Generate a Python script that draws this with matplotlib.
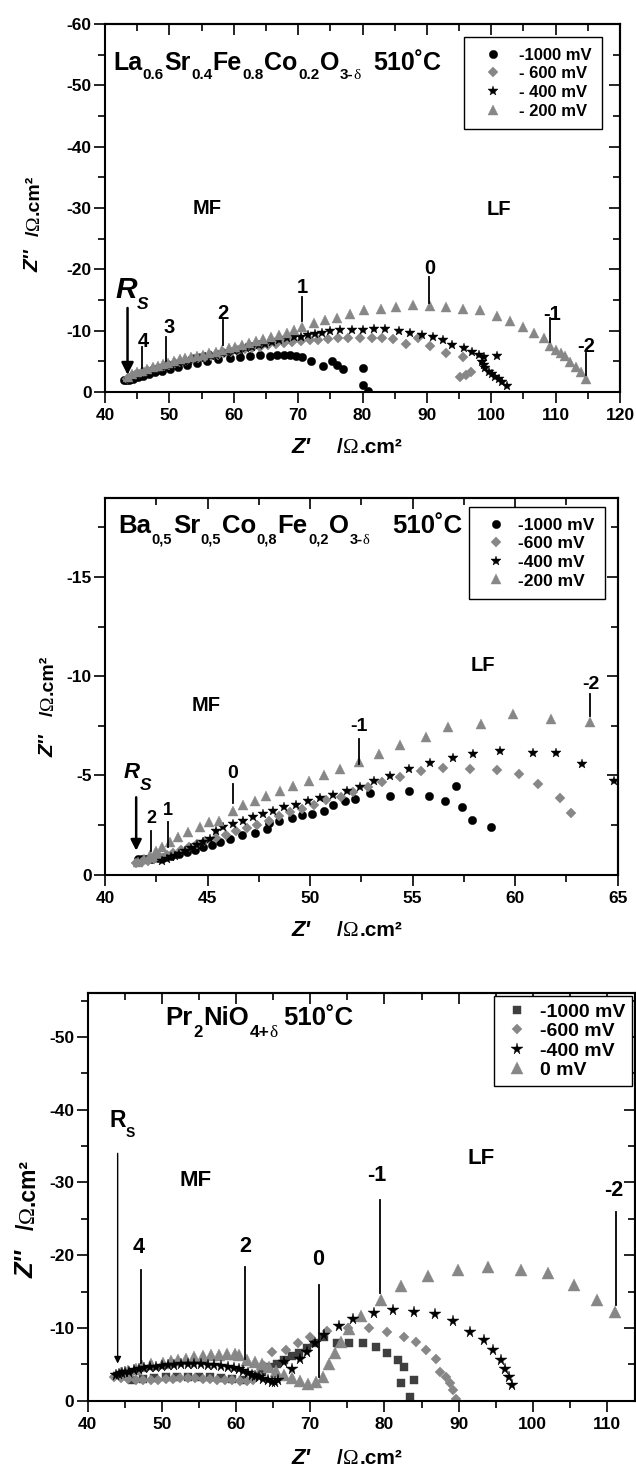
import matplotlib
matplotlib.use("Agg")
import matplotlib.pyplot as plt
from matplotlib.ticker import MultipleLocator
from matplotlib.transforms import IdentityTransform

plt.rcParams["font.family"] = ["Liberation Sans", "DejaVu Sans"]
plt.rcParams["font.weight"] = "bold"
plt.rcParams["axes.unicode_minus"] = False

# ---------------------------------------------------------------------------
# Impedance data at 510 °C: Z' and Z'' in ohm.cm2 (Z'' negative)
# ---------------------------------------------------------------------------
# La0.6Sr0.4Fe0.8Co0.2O3-d
LSCF_LABELS = ["-1000 mV", "- 600 mV", "- 400 mV", "- 200 mV"]
LSCF_X_1000 = [42.9, 43.3, 43.8, 44.4, 45.1, 45.9, 46.8, 47.8, 48.9, 50.1, 51.4, 52.8, 54.3, 55.9, 57.6,
               59.4, 61.0, 62.5, 64.1, 65.7, 66.7, 67.8, 68.8, 69.6, 70.6, 72.0, 73.9, 75.3, 76.1, 77.0,
               80.0, 80.0, 80.8]
LSCF_Y_1000 = [-2.0, -2.0, -2.0, -2.2, -2.4, -2.6, -2.9, -3.2, -3.5, -3.8, -4.1, -4.4, -4.7, -5.0, -5.3,
               -5.5, -5.7, -5.8, -6.0, -5.8, -6.1, -6.0, -6.0, -5.8, -5.7, -5.1, -4.2, -5.1, -4.4, -3.8,
               -3.9, -1.1, -0.1]
LSCF_X_600 = [43.4, 44.0, 44.6, 45.3, 46.0, 46.7, 47.5, 48.3, 49.1, 49.9, 50.8, 51.7, 52.6, 53.5, 54.5,
              55.5, 56.5, 57.5, 58.5, 59.6, 60.7, 61.8, 62.9, 64.1, 65.3, 66.5, 67.8, 69.1, 70.4, 71.8,
              73.1, 74.7, 76.2, 77.8, 79.6, 81.4, 83.0, 84.8, 86.8, 88.6, 90.5, 93.0, 95.6, 96.9, 96.0,
              95.2]
LSCF_Y_600 = [-2.2, -2.4, -2.7, -2.9, -3.2, -3.4, -3.7, -3.9, -4.2, -4.4, -4.7, -4.9, -5.1, -5.3, -5.5,
              -5.7, -5.9, -6.1, -6.3, -6.6, -6.8, -7.0, -7.2, -7.4, -7.6, -7.8, -8.0, -8.2, -8.3, -8.4,
              -8.5, -8.6, -8.75, -8.75, -8.75, -8.75, -8.75, -8.6, -7.8, -8.8, -7.5, -6.3, -5.7, -3.2, -2.8,
              -2.4]
LSCF_X_400 = [43.8, 44.3, 44.8, 45.4, 46.0, 46.6, 47.2, 47.9, 48.6, 49.3, 50.0, 50.7, 51.5, 52.3, 53.1,
              53.9, 54.7, 55.5, 56.4, 57.3, 58.2, 59.1, 60.0, 60.9, 61.9, 62.9, 63.9, 64.9, 65.9, 67.0,
              68.2, 69.3, 70.4, 71.5, 72.6, 73.7, 74.9, 76.5, 78.3, 80.1, 81.8, 83.5, 85.6, 87.4, 89.2,
              90.9, 92.5, 93.9, 95.7, 97.0, 98.1, 98.8, 100.9, 98.6, 98.8, 99.1, 99.6, 100.1, 100.6, 101.2,
              101.7, 102.5]
LSCF_Y_400 = [-2.0, -2.2, -2.4, -2.6, -2.9, -3.1, -3.3, -3.6, -3.8, -4.1, -4.3, -4.5, -4.7, -4.9, -5.1,
              -5.3, -5.5, -5.7, -5.9, -6.1, -6.3, -6.5, -6.7, -6.9, -7.1, -7.3, -7.6, -7.9, -8.2, -8.5,
              -8.75, -8.9, -9.0, -9.3, -9.5, -9.7, -10.0, -10.1, -10.1, -10.1, -10.2, -10.2, -10.0, -9.7, -9.3,
              -8.9, -8.4, -7.7, -7.1, -6.6, -6.1, -5.7, -5.9, -4.9, -4.4, -3.9, -3.3, -2.9, -2.5, -2.1,
              -1.7, -1.0]
LSCF_X_200 = [43.5, 44.2, 45.0, 45.8, 46.6, 47.4, 48.2, 49.0, 49.8, 50.7, 51.6, 52.5, 53.4, 54.3, 55.2,
              56.2, 57.2, 58.2, 59.2, 60.2, 61.3, 62.4, 63.5, 64.6, 65.8, 67.0, 68.2, 69.4, 70.6, 72.4,
              74.2, 76.1, 78.1, 80.2, 82.8, 85.2, 87.8, 90.5, 93.0, 95.6, 98.3, 100.9, 102.9, 104.9, 106.6,
              108.2, 109.2, 110.0, 110.8, 111.5, 112.3, 113.1, 113.9, 114.7]
LSCF_Y_200 = [-2.5, -2.9, -3.2, -3.5, -3.8, -4.0, -4.3, -4.5, -4.8, -5.0, -5.3, -5.5, -5.7, -5.9, -6.1,
              -6.4, -6.6, -6.9, -7.1, -7.4, -7.7, -8.0, -8.3, -8.6, -8.9, -9.3, -9.7, -10.1, -10.6, -11.2,
              -11.7, -12.1, -12.7, -13.3, -13.5, -13.9, -14.2, -14.0, -13.9, -13.6, -13.3, -12.4, -11.5, -10.6, -9.6,
              -8.8, -7.5, -6.9, -6.3, -5.8, -4.9, -4.1, -3.3, -2.1]

# Ba0.5Sr0.5Co0.8Fe0.2O3-d
BSCF_LABELS = ["-1000 mV", "-600 mV", "-400 mV", "-200 mV"]
BSCF_X_1000 = [41.6, 41.8, 42.0, 42.3, 42.6, 42.9, 43.2, 43.6, 44.0, 44.4, 44.8, 45.2, 45.6, 46.1, 46.7,
               47.3, 47.9, 48.0, 48.5, 49.1, 49.6, 50.1, 50.7, 51.1, 51.7, 52.2, 52.9, 53.9, 54.8, 55.8,
               56.6, 57.1, 57.4, 57.9, 58.8]
BSCF_Y_1000 = [-0.8, -0.8, -0.8, -0.8, -0.85, -0.9, -0.95, -1.05, -1.15, -1.25, -1.4, -1.5, -1.65, -1.8, -2.0,
               -2.1, -2.3, -2.6, -2.7, -2.85, -3.0, -3.05, -3.2, -3.5, -3.7, -3.8, -4.1, -3.95, -4.2, -3.95,
               -3.7, -4.45, -3.4, -2.75, -2.4]
BSCF_X_600 = [41.5, 41.8, 42.1, 42.4, 42.7, 43.0, 43.3, 43.7, 44.1, 44.5, 44.9, 45.4, 45.9, 46.4, 46.9,
              47.4, 48.0, 48.5, 49.0, 49.6, 50.2, 50.8, 51.5, 52.1, 52.8, 53.5, 54.4, 55.4, 56.5, 57.8,
              59.1, 60.2, 61.1, 62.2, 62.7]
BSCF_Y_600 = [-0.6, -0.65, -0.7, -0.8, -0.9, -1.0, -1.1, -1.25, -1.4, -1.55, -1.7, -1.85, -2.0, -2.2, -2.35,
              -2.5, -2.7, -2.95, -3.15, -3.3, -3.5, -3.75, -3.9, -4.15, -4.4, -4.65, -4.9, -5.25, -5.4, -5.35,
              -5.3, -5.1, -4.55, -3.85, -3.1]
BSCF_X_400 = [42.8, 43.0, 43.2, 43.4, 43.6, 43.9, 44.2, 44.5, 44.8, 45.1, 45.4, 45.75, 46.24, 46.73, 47.22,
              47.72, 48.21, 48.74, 49.29, 49.88, 50.47, 51.10, 51.79, 52.44, 53.13, 53.92, 54.84, 55.85, 56.97, 57.95,
              59.27, 60.87, 61.99, 63.27, 64.8]
BSCF_Y_400 = [-0.7, -0.8, -0.87, -0.95, -1.05, -1.2, -1.35, -1.5, -1.65, -1.8, -2.2, -2.39, -2.55, -2.72, -2.89,
              -3.06, -3.23, -3.39, -3.53, -3.70, -3.87, -4.03, -4.24, -4.44, -4.71, -4.99, -5.33, -5.61, -5.88, -6.08,
              -6.25, -6.12, -6.12, -5.58, -4.74]
BSCF_X_200 = [41.6, 41.9, 42.2, 42.5, 42.8, 43.19, 43.58, 44.07, 44.63, 45.06, 45.55, 46.24, 46.73, 47.32, 47.87,
              48.54, 49.19, 49.96, 50.67, 51.46, 52.40, 53.35, 54.37, 55.63, 56.73, 58.35, 59.88, 61.73, 63.66]
BSCF_Y_200 = [-0.62, -0.8, -1.0, -1.2, -1.38, -1.63, -1.88, -2.13, -2.39, -2.64, -2.72, -3.23, -3.53, -3.70, -3.98,
              -4.20, -4.49, -4.74, -5.00, -5.33, -5.70, -6.08, -6.55, -6.96, -7.43, -7.60, -8.10, -7.85, -7.68]

# Pr2NiO4+d
PNO_LABELS = ["-1000 mV", "-600 mV", "-400 mV", "0 mV"]
PNO_X_1000 = [46.0, 47.5, 49.0, 50.5, 52.0, 53.5, 55.0, 56.5, 58.0, 59.5, 61.0, 62.3, 63.5, 64.5, 65.5,
              66.5, 67.5, 68.5, 69.5, 70.5, 71.9, 73.6, 75.2, 77.1, 78.8, 80.4, 81.8, 82.6, 82.3, 84.0,
              83.4]
PNO_Y_1000 = [-2.9, -3.0, -3.1, -3.2, -3.2, -3.3, -3.3, -3.2, -3.1, -3.0, -2.9, -3.3, -4.0, -4.6, -5.1,
              -5.6, -6.1, -6.6, -7.3, -8.0, -8.8, -8.0, -8.0, -7.9, -7.4, -6.5, -5.6, -4.7, -2.4, -2.9,
              -0.55]
PNO_X_600 = [43.5, 44.5, 45.5, 46.5, 47.5, 48.5, 49.5, 50.5, 51.5, 52.5, 53.5, 54.5, 55.5, 56.5, 57.5,
             58.5, 59.5, 60.5, 61.5, 62.3, 63.0, 63.8, 64.8, 66.7, 68.4, 70.0, 72.2, 75.1, 77.9, 80.4,
             82.6, 84.2, 85.6, 87.0, 87.5, 88.3, 88.9, 89.2, 89.7]
PNO_Y_600 = [-3.3, -3.1, -3.0, -2.9, -2.9, -2.9, -2.9, -3.0, -3.0, -3.1, -3.1, -3.1, -3.0, -3.0, -2.9,
             -2.8, -2.8, -2.7, -2.7, -2.9, -3.6, -4.8, -6.7, -7.0, -8.0, -8.8, -9.6, -10.0, -10.0, -9.5,
             -8.8, -8.1, -7.0, -5.7, -4.0, -3.3, -2.4, -1.5, -0.3]
PNO_X_400 = [43.8, 44.2, 44.6, 45.1, 45.6, 46.2, 46.9, 47.6, 48.4, 49.2, 50.0, 50.8, 51.7, 52.6, 53.5,
             54.4, 55.3, 56.2, 57.1, 58.0, 58.9, 59.7, 60.4, 61.0, 61.6, 62.1, 62.6, 63.1, 63.7, 64.3,
             64.8, 65.3, 65.7, 66.5, 67.6, 68.6, 69.5, 70.6, 71.9, 73.9, 75.8, 78.6, 81.1, 84.0, 86.8,
             89.3, 91.5, 93.4, 94.6, 95.7, 96.3, 96.8, 97.2]
PNO_Y_400 = [-3.6, -3.7, -3.8, -3.9, -4.0, -4.2, -4.4, -4.5, -4.6, -4.7, -4.8, -4.9, -4.9, -5.0, -5.0,
             -5.0, -5.0, -4.9, -4.9, -4.8, -4.7, -4.5, -4.3, -4.1, -3.8, -3.6, -3.4, -3.2, -3.0, -2.8,
             -2.6, -2.6, -2.8, -5.3, -4.4, -5.8, -6.7, -7.9, -9.0, -10.3, -11.2, -12.0, -12.4, -12.2, -11.9,
             -10.9, -9.5, -8.3, -7.0, -5.6, -4.4, -3.3, -2.2]
PNO_X_0 = [44.5, 45.5, 46.5, 47.3, 48.5, 50.1, 51.2, 52.2, 53.3, 54.4, 55.5, 56.6, 57.7, 58.8, 59.8,
           60.4, 61.5, 62.5, 63.5, 64.4, 65.4, 66.5, 67.6, 68.6, 69.7, 70.8, 71.7, 72.5, 73.3, 74.1,
           75.2, 76.9, 79.6, 82.3, 85.9, 89.9, 93.9, 98.4, 102.1, 105.6, 108.6, 111.1]
PNO_Y_0 = [-3.8, -4.1, -4.4, -4.8, -5.0, -5.2, -5.4, -5.6, -5.8, -6.0, -6.1, -6.3, -6.3, -6.4, -6.4,
           -6.3, -5.6, -5.3, -5.0, -4.6, -4.1, -3.6, -3.1, -2.7, -2.3, -2.6, -3.3, -5.1, -6.6, -8.1,
           -9.8, -11.6, -13.85, -15.7, -17.2, -18.0, -18.4, -18.0, -17.5, -15.9, -13.9, -12.2]

# ---------------------------------------------------------------------------
W, H = 636, 1469
GREY = "#878787"
DARK = "#3f3f3f"
SANS = ["Liberation Sans", "DejaVu Sans"]
SERIF = ["Liberation Serif", "DejaVu Serif"]
SYM = {"family": SERIF, "weight": "normal"}
IT = {"style": "italic"}

fig = plt.figure(figsize=(W / 100, H / 100), dpi=100)
renderer = fig.canvas.get_renderer()
PX = IdentityTransform()


def rich(x, y, parts, vertical=False):
    """Draw a run of text pieces starting at pixel (x, y), y measured from the top.
    Each piece: (text, size, baseline shift in px, gap after in px, extra style)."""
    pos = 0.0
    for text, size, shift, gap, style in parts:
        kw = dict(fontsize=size, transform=PX, ha="left", va="baseline", family=SANS, weight="bold")
        kw.update(style)
        if vertical:
            t = fig.text(x + shift, H - y + pos, text, rotation=90, rotation_mode="anchor", **kw)
            pos += t.get_window_extent(renderer).height + gap
        else:
            t = fig.text(x + pos, H - y - shift, text, **kw)
            pos += t.get_window_extent(renderer).width + gap


def make_axes(box, xlim, ylim, xmaj, xmin, ymaj, ymin):
    left, top, right, bottom = box
    ax = fig.add_axes([left / W, 1 - bottom / H, (right - left) / W, (bottom - top) / H])
    ax.set_xlim(*xlim)
    ax.set_ylim(*ylim)
    for axis, maj, mnr in ((ax.xaxis, xmaj, xmin), (ax.yaxis, ymaj, ymin)):
        axis.set_major_locator(MultipleLocator(maj))
        axis.set_minor_locator(MultipleLocator(mnr))
    ax.tick_params(which="both", direction="out", width=1.2, labelsize=12.5)
    ax.tick_params(which="major", length=8)
    ax.tick_params(which="minor", length=5)
    ax.tick_params(axis="x", pad=3.5)
    ax.tick_params(axis="y", pad=1.5)
    for sp in ax.spines.values():
        sp.set_linewidth(1.5)
    sec_top = ax.secondary_xaxis("top")
    sec_right = ax.secondary_yaxis("right")
    for sec, axis, maj, mnr in ((sec_top, sec_top.xaxis, xmaj, xmin),
                                (sec_right, sec_right.yaxis, ymaj, ymin)):
        axis.set_major_locator(MultipleLocator(maj))
        axis.set_minor_locator(MultipleLocator(mnr))
        sec.tick_params(which="both", direction="in", width=1.2, labeltop=False, labelright=False)
        sec.tick_params(which="major", length=8)
        sec.tick_params(which="minor", length=5)
        for sp in sec.spines.values():
            sp.set_linewidth(1.5)
    return ax


def marks(ax, x, y, marker, ms, color, label):
    (h,) = ax.plot(x, y, ls="none", marker=marker, ms=ms, color=color, mec=color, mew=0.3, label=label)
    return h


def tag(ax, x, y, s, size, line=None):
    ax.text(x, y, s, ha="center", va="center", fontsize=size, weight="bold")
    if line is not None:
        ax.plot([line[0], line[0]], [line[1], line[2]], color="k", lw=1.3)


def arrow(ax, x, y0, y1, lw, scale):
    ax.annotate("", xy=(x, y1), xytext=(x, y0),
                arrowprops=dict(arrowstyle="-|>", color="k", lw=lw, mutation_scale=scale,
                                shrinkA=0, shrinkB=0))


def legend(ax, handles, labels, anchor, size, pad, hlen, tpad, spacing):
    lg = ax.legend(handles, labels, loc="upper left", bbox_to_anchor=anchor, borderaxespad=0,
                   fancybox=False, edgecolor="black", framealpha=1, fontsize=size, borderpad=pad,
                   handlelength=hlen, handletextpad=tpad, labelspacing=spacing, numpoints=1)
    lg.get_frame().set_linewidth(1.0)


def axis_labels(xl, yl, ysz):
    xx, xy = xl
    rich(xx, xy, [("Z'", 16, 0, 0, IT)])
    rich(xx + 45, xy, [("/", 15, 0, 0.5, {}), ("Ω", 15, 0, 0.5, SYM), (".cm²", 15, 0, 0, {})])
    yx, yy, gap = yl
    zs, us = ysz
    rich(yx, yy, [("Z''", zs, 0, gap, IT), ("/", us, 0, 0.5, {}), ("Ω", us, 0, 0.5, SYM),
                  (".cm²", us, 0, 0, {})], vertical=True)


# --------------------------- panel 1: LSCF ---------------------------------
ax1 = make_axes((105, 24, 620, 392), (40, 120), (0, -60), 10, 5, 10, 5)
h1 = [marks(ax1, LSCF_X_1000, LSCF_Y_1000, "o", 6.0, "black", LSCF_LABELS[0]),
      marks(ax1, LSCF_X_600, LSCF_Y_600, "D", 5.0, GREY, LSCF_LABELS[1]),
      marks(ax1, LSCF_X_400, LSCF_Y_400, "*", 7.5, "black", LSCF_LABELS[2]),
      marks(ax1, LSCF_X_200, LSCF_Y_200, "^", 7.0, GREY, LSCF_LABELS[3])]
legend(ax1, h1, LSCF_LABELS, (0.697, 0.964), 12, 0.62, 2.2, 0.5, 0.22)
tag(ax1, 45.9, -8.3, "4", 14.5, (45.7, -7.4, -3.9))
tag(ax1, 50.0, -10.55, "3", 14.5, (49.5, -9.0, -5.1))
tag(ax1, 58.3, -12.8, "2", 14.5, (58.3, -11.7, -7.7))
tag(ax1, 70.7, -17.0, "1", 14.5, (70.6, -15.5, -11.5))
tag(ax1, 90.5, -20.1, "0", 14.5, (90.4, -18.7, -14.5))
tag(ax1, 109.5, -12.7, "-1", 14.5, (109.2, -12.0, -8.2))
tag(ax1, 114.7, -7.45, "-2", 14.5, (114.7, -6.3, -2.8))
tag(ax1, 55.8, -30.0, "MF", 14.5)
tag(ax1, 101.2, -29.8, "LF", 14.5)
arrow(ax1, 43.5, -13.7, -2.8, 1.8, 18)
rich(115, 298, [("R", 21.5, 0, 0, IT), ("S", 12.5, 11, 0, IT)])
rich(113, 70, [("La", 18, 0, 0.5, {}), ("0.6", 11, 9, 0.5, {}), ("Sr", 18, 0, 0.5, {}),
               ("0.4", 11, 9, 0.5, {}), ("Fe", 18, 0, 0.5, {}), ("0.8", 11, 9, 0.5, {}),
               ("Co", 18, 0, 0.5, {}), ("0.2", 11, 9, 0.5, {}), ("O", 18, 0, 0.5, {}),
               ("3-", 11, 9, 0.3, {}), ("δ", 11, 9, 12, SYM), ("510˚C", 18, 0, 0, {})])
axis_labels((292, 453), (38.5, 272, 13), (15, 14))

# --------------------------- panel 2: BSCF ---------------------------------
ax2 = make_axes((105, 497.7, 617.7, 874.7), (40, 65), (0, -19), 5, 2.5, 5, 2.5)
h2 = [marks(ax2, BSCF_X_1000, BSCF_Y_1000, "o", 6.0, "black", BSCF_LABELS[0]),
      marks(ax2, BSCF_X_600, BSCF_Y_600, "D", 4.8, GREY, BSCF_LABELS[1]),
      marks(ax2, BSCF_X_400, BSCF_Y_400, "*", 7.5, "black", BSCF_LABELS[2]),
      marks(ax2, BSCF_X_200, BSCF_Y_200, "^", 7.5, GREY, BSCF_LABELS[3])]
legend(ax2, h2, BSCF_LABELS, (0.710, 0.976), 12.5, 0.62, 1.87, 0.31, 0.2)
tag(ax2, 42.24, -2.81, "2", 13, (42.24, -2.22, -1.21))
tag(ax2, 43.09, -3.23, "1", 13, (43.09, -2.64, -1.38))
tag(ax2, 46.24, -5.08, "0", 14, (46.24, -4.57, -3.6))
tag(ax2, 52.40, -7.46, "-1", 14, (52.40, -6.84, -5.58))
tag(ax2, 63.70, -9.61, "-2", 14, (63.66, -9.11, -8.02))
tag(ax2, 44.92, -8.52, "MF", 14.5)
tag(ax2, 58.44, -10.54, "LF", 14.5)
arrow(ax2, 41.52, -3.9, -1.21, 1.8, 16)
rich(123.7, 778.3, [("R", 16, 0, 0, IT), ("S", 12.5, 11.7, 0, IT)])
rich(118.3, 533.3, [("Ba", 18.5, 0, 0.5, {}), ("0,5", 10.5, 10.7, 0.5, {}), ("Sr", 18.5, 0, 0.5, {}),
                    ("0,5", 10.5, 10.7, 0.5, {}), ("Co", 18.5, 0, 0.5, {}), ("0,8", 10.5, 10.7, 0.5, {}),
                    ("Fe", 18.5, 0, 0.5, {}), ("0,2", 10.5, 10.7, 0.5, {}), ("O", 18.5, 0, 0.5, {}),
                    ("3-", 10.5, 10.7, 0.3, {}), ("δ", 10.5, 10.7, 22, SYM), ("510˚C", 18.5, 0, 0, {})])
axis_labels((292, 936), (53, 757, 18), (15, 14))

# --------------------------- panel 3: PNO ----------------------------------
ax3 = make_axes((87.6, 993.3, 634.5, 1400.7), (40, 113.7), (0, -56), 10, 5, 10, 5)
h3 = [marks(ax3, PNO_X_1000, PNO_Y_1000, "s", 6.0, DARK, PNO_LABELS[0]),
      marks(ax3, PNO_X_0, PNO_Y_0, "^", 8.5, GREY, PNO_LABELS[3]),
      marks(ax3, PNO_X_600, PNO_Y_600, "D", 5.5, GREY, PNO_LABELS[1]),
      marks(ax3, PNO_X_400, PNO_Y_400, "*", 8.5, "black", PNO_LABELS[2])]
legend(ax3, [h3[0], h3[2], h3[3], h3[1]], PNO_LABELS, (0.744, 0.993), 14, 0.35, 1.6, 0.4, 0.1)
tag(ax3, 46.9, -21.0, "4", 15.5, (47.2, -18.0, -5.14))
tag(ax3, 61.2, -21.2, "2", 15.5, (61.2, -18.4, -5.8))
tag(ax3, 71.1, -19.4, "0", 15.5, (71.2, -15.9, -3.3))
tag(ax3, 79.0, -30.9, "-1", 15.5, (79.4, -27.6, -14.8))
tag(ax3, 110.9, -28.9, "-2", 15.5, (111.2, -26.0, -13.2))
tag(ax3, 54.5, -30.3, "MF", 16)
tag(ax3, 93.0, -33.3, "LF", 16)
arrow(ax3, 44.05, -34.0, -5.1, 1.0, 10)
rich(109.5, 1126.7, [("R", 16.5, 0, 0, {}), ("S", 10, 10, 0, {})])
rich(165.5, 1025, [("Pr", 18.5, 0, 0.5, {}), ("2", 12, 11.7, 0.5, {}), ("NiO", 18.5, 0, 0.5, {}),
                   ("4+", 12.5, 11.7, 0.3, {}), ("δ", 12.5, 11.7, 6, SYM), ("510˚C", 18.5, 0, 0, {})])
axis_labels((292, 1464), (34, 1278, 20), (18.5, 16.5))

fig.savefig("out.png", dpi=100)
